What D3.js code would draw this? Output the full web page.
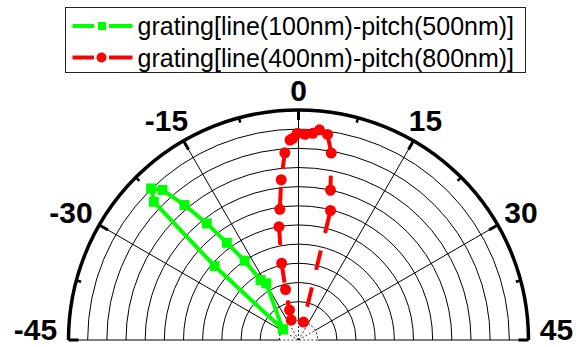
<!DOCTYPE html>
<html>
<head>
<meta charset="utf-8">
<script src="https://cdn.jsdelivr.net/npm/d3@7"></script>
<style>
body { margin: 0; background: #fff; }
svg { display: block; }
</style>
</head>
<body>
<svg id="sketch"></svg>
<script>
// angular axis (degrees), major ticks are labelled
var angleTicks = [-45, -30, -15, 0, 15, 30, 45];
var minorTicks = [-37.5, -22.5, -7.5, 7.5, 22.5, 37.5];
var ringValues = [1, 2, 3, 4, 5, 6, 7, 8, 9, 10, 11, 12];

var seriesNames = ['grating[line(100nm)-pitch(500nm)]', 'grating[line(400nm)-pitch(800nm)]'];

// grating line(100nm) pitch(500nm)
var greenAngle = [-27.9, -14.8, -16.2, -17.1, -18.2, -19.1, -20.1, -21.1, -22.1, -23.15, -24.3, -27.9];
var greenValue = [0.99, 3.4, 3.7, 5.0, 6.3, 7.74, 9.22, 10.57, 11.03, 10.44, 5.84, 0.99];

// grating line(400nm) pitch(800nm)
var redAngle = [-10.0, -8.35, -7.2, -6.2, -4.9, -4.07, -3.08, -2.09, -1.22, -0.81, -0.21, 0.9, 1.98, 2.85, 4.02, 4.97, 6.02, 6.94, 7.76];
var redValue = [1.11, 1.63, 2.72, 4.1, 6.0, 6.89, 8.41, 9.79, 10.44, 10.53, 10.77, 10.74, 10.81, 11.02, 10.83, 9.9, 8.0, 6.96, 0.97];

var W = 576, H = 347, cx = 298.5, cy = 340, R = 230;
var font = "'Liberation Sans', Arial, sans-serif";

var svg = d3.select('#sketch').attr('width', W).attr('height', H);
svg.append('rect').attr('width', W).attr('height', H).attr('fill', '#fff');

var angle = d3.scaleLinear().domain([-45, 45]).range([-Math.PI / 2, Math.PI / 2]);
var radius = d3.scaleLinear().domain([0, 12]).range([0, R]);

function pt(a, r) {
    return [r * Math.sin(angle(a)), -r * Math.cos(angle(a))];
}
function halfArc(r) {
    var p = d3.path();
    p.arc(0, 0, r, Math.PI, 2 * Math.PI);
    return p.toString();
}

var g = svg.append('g').attr('transform', 'translate(' + cx + ',' + cy + ')');
var grid = g.append('g');
var r1 = radius(ringValues[0]);

// rings (innermost one dashed)
grid.selectAll('.ring')
    .data(ringValues.slice(0, -1))
    .enter().append('path')
    .attr('class', 'ring')
    .attr('d', function(v) { return halfArc(radius(v)); })
    .attr('fill', 'none')
    .attr('stroke', '#000')
    .attr('stroke-width', 1)
    .attr('stroke-dasharray', function(v, i) { return i == 0 ? '2,2' : null; });

// spokes
var spokes = angleTicks.slice(1, -1);
spokes.forEach(function(a) {
    var p0 = pt(a, r1), p1 = pt(a, R);
    grid.append('line')
        .attr('x1', p0[0]).attr('y1', p0[1]).attr('x2', p1[0]).attr('y2', p1[1])
        .attr('stroke', '#000').attr('stroke-width', 1);
    grid.append('line')
        .attr('x1', 0).attr('y1', 0).attr('x2', p0[0]).attr('y2', p0[1])
        .attr('stroke', '#000').attr('stroke-width', 0.8).attr('stroke-dasharray', '2,2');
});

// base line
grid.append('line').attr('x1', -R).attr('x2', -r1).attr('y1', 0).attr('y2', 0)
    .attr('stroke', '#000').attr('stroke-width', 1);
grid.append('line').attr('x1', r1).attr('x2', R).attr('y1', 0).attr('y2', 0)
    .attr('stroke', '#000').attr('stroke-width', 1);
grid.append('line').attr('x1', -r1).attr('x2', r1).attr('y1', 0).attr('y2', 0)
    .attr('stroke', '#000').attr('stroke-width', 0.8).attr('stroke-dasharray', '2,2');

// outer arc + ticks
g.append('path')
    .attr('d', halfArc(R))
    .attr('fill', 'none')
    .attr('stroke', '#000')
    .attr('stroke-width', 3.5);

g.selectAll('.major')
    .data(angleTicks)
    .enter().append('line')
    .attr('class', 'major')
    .attr('x1', function(a) { return pt(a, R)[0]; })
    .attr('y1', function(a) { return pt(a, R)[1]; })
    .attr('x2', function(a) { return pt(a, R - 10)[0]; })
    .attr('y2', function(a) { return pt(a, R - 10)[1]; })
    .attr('stroke', '#000')
    .attr('stroke-width', 3);

g.selectAll('.minor')
    .data(minorTicks)
    .enter().append('line')
    .attr('class', 'minor')
    .attr('x1', function(a) { return pt(a, R)[0]; })
    .attr('y1', function(a) { return pt(a, R)[1]; })
    .attr('x2', function(a) { return pt(a, R - 5)[0]; })
    .attr('y2', function(a) { return pt(a, R - 5)[1]; })
    .attr('stroke', '#000')
    .attr('stroke-width', 2.5);

// tick labels
g.selectAll('.lab')
    .data(angleTicks)
    .enter().append('text')
    .attr('class', 'lab')
    .attr('x', function(a) {
        var d = 20 + 8 * Math.abs(Math.sin(angle(a)));
        return pt(a, R + d)[0] - (a < 0 ? 5 : 0);
    })
    .attr('y', function(a) {
        var d = 20 + 8 * Math.abs(Math.sin(angle(a)));
        return pt(a, R + d)[1] + (Math.abs(a) == 45 ? 0 : 11);
    })
    .attr('text-anchor', 'middle')
    .style('font-family', font)
    .style('font-weight', 'bold')
    .style('font-size', '30px')
    .text(function(a) { return a; });

// data
var line = d3.lineRadial()
    .angle(function(d) { return angle(d[0]); })
    .radius(function(d) { return radius(d[1]); });

var greenData = d3.zip(greenAngle, greenValue);
var redData = d3.zip(redAngle, redValue);

g.append('path')
    .datum(greenData)
    .attr('d', line)
    .attr('fill', 'none')
    .attr('stroke', '#00ff00')
    .attr('stroke-width', 4)
    .attr('stroke-linejoin', 'round');

g.selectAll('.sq')
    .data(greenData)
    .enter().append('rect')
    .attr('class', 'sq')
    .attr('x', function(d) { return pt(d[0], radius(d[1]))[0] - 5; })
    .attr('y', function(d) { return pt(d[0], radius(d[1]))[1] - 5; })
    .attr('width', 10)
    .attr('height', 10)
    .attr('fill', '#00ff00');

g.append('path')
    .datum(redData)
    .attr('d', line)
    .attr('fill', 'none')
    .attr('stroke', '#ff0000')
    .attr('stroke-width', 4)
    .attr('stroke-dasharray', '20,18');

g.selectAll('.dot')
    .data(redData)
    .enter().append('circle')
    .attr('class', 'dot')
    .attr('cx', function(d) { return pt(d[0], radius(d[1]))[0]; })
    .attr('cy', function(d) { return pt(d[0], radius(d[1]))[1]; })
    .attr('r', 5.5)
    .attr('fill', '#ff0000');

// legend
var legend = svg.append('g');
legend.append('rect')
    .attr('x', 65.5).attr('y', 7.5)
    .attr('width', 460).attr('height', 65)
    .attr('fill', '#fff')
    .attr('stroke', '#222')
    .attr('stroke-width', 1);

var colors = ['#00ff00', '#ff0000'];
seriesNames.forEach(function(name, i) {
    var y = 26 + i * 31.5;
    legend.append('line').attr('x1', 72.5).attr('x2', 94).attr('y1', y).attr('y2', y)
        .attr('stroke', colors[i]).attr('stroke-width', 4);
    legend.append('line').attr('x1', 109).attr('x2', 132.5).attr('y1', y).attr('y2', y)
        .attr('stroke', colors[i]).attr('stroke-width', 4);
    if (i == 0) {
        legend.append('rect').attr('x', 98).attr('y', y - 4).attr('width', 8).attr('height', 8)
            .attr('fill', colors[i]);
    } else {
        legend.append('circle').attr('cx', 101.5).attr('cy', y).attr('r', 5)
            .attr('fill', colors[i]);
    }
    legend.append('text')
        .attr('x', 137.5)
        .attr('y', y + 9)
        .text(name)
        .style('font-family', font)
        .style('font-size', '25px');
});
</script>
</body>
</html>
